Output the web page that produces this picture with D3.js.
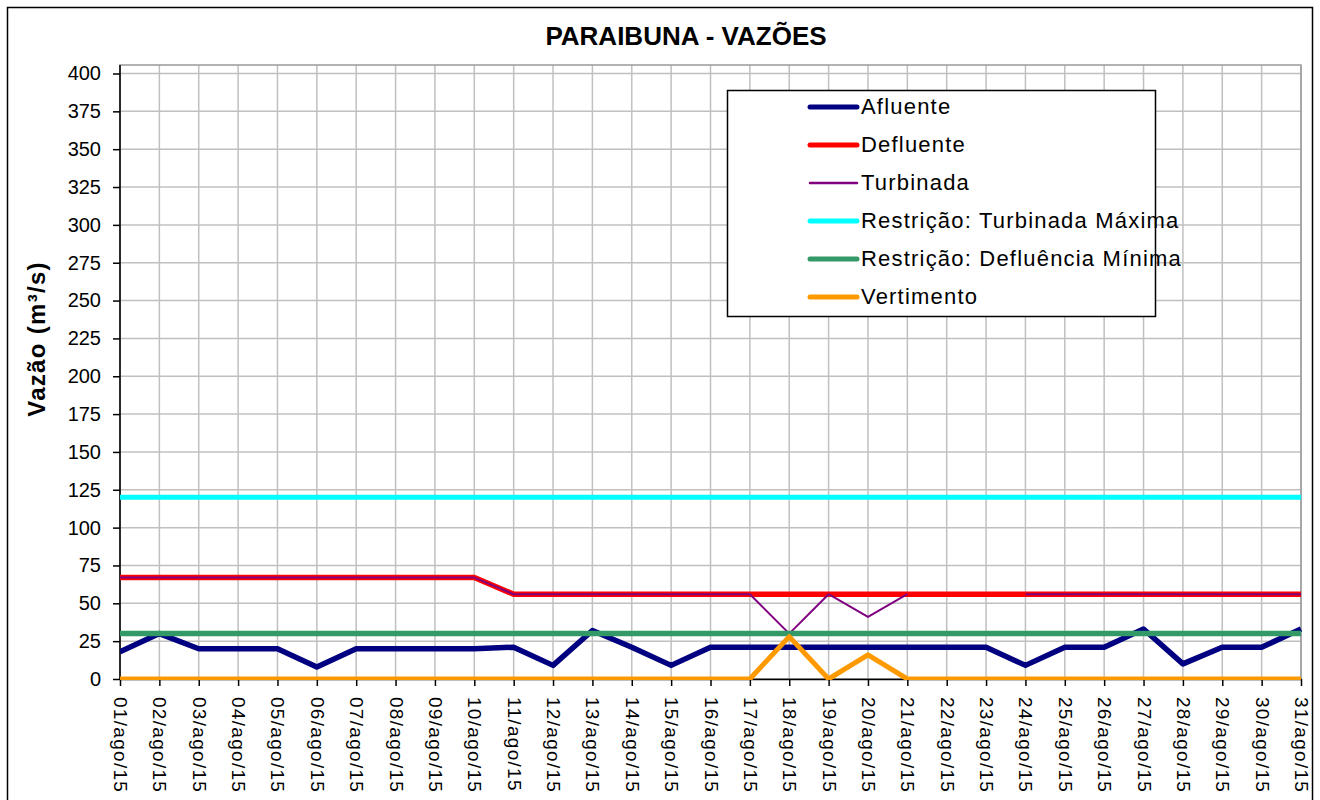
<!DOCTYPE html>
<html>
<head>
<meta charset="utf-8">
<script src="https://cdn.jsdelivr.net/npm/d3@7"></script>
<style>
  body { margin: 0; background: #fff; }
  svg { font-family: "Liberation Sans", Arial, sans-serif; }
</style>
</head>
<body>
<svg id="chart" width="1320" height="800"></svg>
<script>
// dates and series
const days = d3.range(1, 32).map(d => String(d).padStart(2, '0') + '/ago/15');
const afluente = [18, 30, 20, 20, 20, 8, 20, 20, 20, 20, 21, 9, 32, 21, 9, 21, 21, 21, 21, 21, 21, 21, 21, 9, 21, 21, 33, 10, 21, 21, 33];
const defluente = [67, 67, 67, 67, 67, 67, 67, 67, 67, 67, 56, 56, 56, 56, 56, 56, 56, 56, 56, 56, 56, 56, 56, 56, 56, 56, 56, 56, 56, 56, 56];
const turbinada = [67, 67, 67, 67, 67, 67, 67, 67, 67, 67, 56, 56, 56, 56, 56, 56, 56, 30, 56, 41, 56, null, null, 56, 56, 56, 56, 56, 56, 56, 56];
const turbMaxima = days.map(() => 120);
const deflMinima = days.map(() => 30);
const vertimento = [0, 0, 0, 0, 0, 0, 0, 0, 0, 0, 0, 0, 0, 0, 0, 0, 0, 28, 0, 16, 0, 0, 0, 0, 0, 0, 0, 0, 0, 0, 0];
const yTicks = d3.range(0, 401, 25);

const series = [
  { name: 'Afluente', values: afluente, color: '#000080', width: 5.5 },
  { name: 'Defluente', values: defluente, color: '#ff0000', width: 5.5 },
  { name: 'Turbinada', values: turbinada, color: '#800080', width: 2 },
  { name: 'Restrição: Turbinada Máxima', values: turbMaxima, color: '#00ffff', width: 5 },
  { name: 'Restrição: Defluência Mínima', values: deflMinima, color: '#339966', width: 5.5 },
  { name: 'Vertimento', values: vertimento, color: '#ff9900', width: 5 }
];
// drawing order (back to front)
const drawOrder = ['Restrição: Turbinada Máxima', 'Defluente', 'Turbinada', 'Afluente', 'Restrição: Defluência Mínima', 'Vertimento'];

const svg = d3.select('#chart');
const plotLeft = 120, plotRight = 1301, plotTop = 65, plotBottom = 679;

const x = d3.scalePoint().domain(days).range([plotLeft, plotRight]);
const y = d3.scaleLinear().domain([0, 400]).range([plotBottom, 73.5]);

// outer border
svg.append('rect')
  .attr('x', 7.5).attr('y', 7.5).attr('width', 1305).attr('height', 800)
  .attr('fill', '#fff').attr('stroke', '#000').attr('stroke-width', 1.5);

svg.append('text')
  .attr('x', 686).attr('y', 45)
  .attr('text-anchor', 'middle')
  .attr('font-size', 26).attr('font-weight', 'bold')
  .text('PARAIBUNA - VAZÕES');

svg.append('text')
  .attr('transform', 'translate(45,339) rotate(-90)')
  .attr('text-anchor', 'middle')
  .attr('font-size', 24).attr('font-weight', 'bold')
  .attr('letter-spacing', 1.3)
  .text('Vazão (m³/s)');

// grid
const grid = svg.append('g').attr('stroke', '#c0c0c0').attr('stroke-width', 1.5);
grid.selectAll('.h').data(yTicks).enter().append('line')
  .attr('x1', plotLeft).attr('x2', plotRight)
  .attr('y1', d => y(d)).attr('y2', d => y(d));
grid.selectAll('.v').data(days).enter().append('line')
  .attr('x1', d => x(d)).attr('x2', d => x(d))
  .attr('y1', plotTop).attr('y2', plotBottom);
svg.append('rect')
  .attr('x', plotLeft).attr('y', plotTop).attr('width', plotRight - plotLeft).attr('height', plotBottom - plotTop)
  .attr('fill', 'none').attr('stroke', '#999').attr('stroke-width', 1.5);

// axes
const yAxis = svg.append('g')
  .attr('transform', `translate(${plotLeft},0)`)
  .call(d3.axisLeft(y).tickValues(yTicks).tickSize(7).tickPadding(12));
yAxis.select('.domain').attr('stroke-width', 1.5).attr('d', `M0,${plotTop}V${plotBottom}`);
yAxis.selectAll('.tick line').attr('stroke-width', 1.5);
yAxis.selectAll('text').attr('font-size', 20).attr('font-family', '"Liberation Sans", Arial, sans-serif').attr('fill', '#000');

const xAxis = svg.append('g')
  .attr('transform', `translate(0,${plotBottom})`)
  .call(d3.axisBottom(x).tickSize(7).tickSizeOuter(0));
xAxis.select('.domain').attr('stroke-width', 1.5);
xAxis.selectAll('.tick line').attr('stroke-width', 1.5);
xAxis.selectAll('text')
  .attr('font-size', 19).attr('font-family', '"Liberation Sans", Arial, sans-serif').attr('fill', '#000')
  .attr('letter-spacing', 1.3)
  .attr('text-anchor', 'start')
  .attr('dy', null)
  .attr('transform', 'translate(-6.5,18) rotate(90)')
  .attr('x', 0).attr('y', 0);

// series
svg.append('clipPath').attr('id', 'plotClip')
  .append('rect').attr('x', plotLeft).attr('y', plotTop).attr('width', plotRight - plotLeft + 1).attr('height', plotBottom - plotTop + 1);

const line = d3.line()
  .defined(d => d != null)
  .x((d, i) => x(days[i]))
  .y(d => y(d));

const lines = svg.append('g').attr('clip-path', 'url(#plotClip)');
drawOrder.forEach(name => {
  const s = series.find(e => e.name === name);
  lines.append('path')
    .attr('d', line(s.values))
    .attr('fill', 'none')
    .attr('stroke', s.color)
    .attr('stroke-width', s.width)
    .attr('stroke-linejoin', 'round');
});

// legend
const legend = svg.append('g').attr('transform', 'translate(727,90)');
legend.append('rect')
  .attr('x', 0.5).attr('y', 0.5).attr('width', 428).attr('height', 226)
  .attr('fill', '#fff').attr('stroke', '#000').attr('stroke-width', 1.5);
const items = legend.selectAll('.item').data(series).enter().append('g')
  .attr('transform', (d, i) => `translate(0,${17 + i * 38})`);
items.append('line')
  .attr('x1', 83).attr('x2', 130)
  .attr('stroke', d => d.color)
  .attr('stroke-width', d => d.width === 2 ? 2.5 : 5)
  .attr('stroke-linecap', 'round');
items.append('text')
  .attr('x', 134).attr('y', 7)
  .attr('font-size', 22)
  .attr('letter-spacing', 1.2)
  .text(d => d.name);
</script>
</body>
</html>
